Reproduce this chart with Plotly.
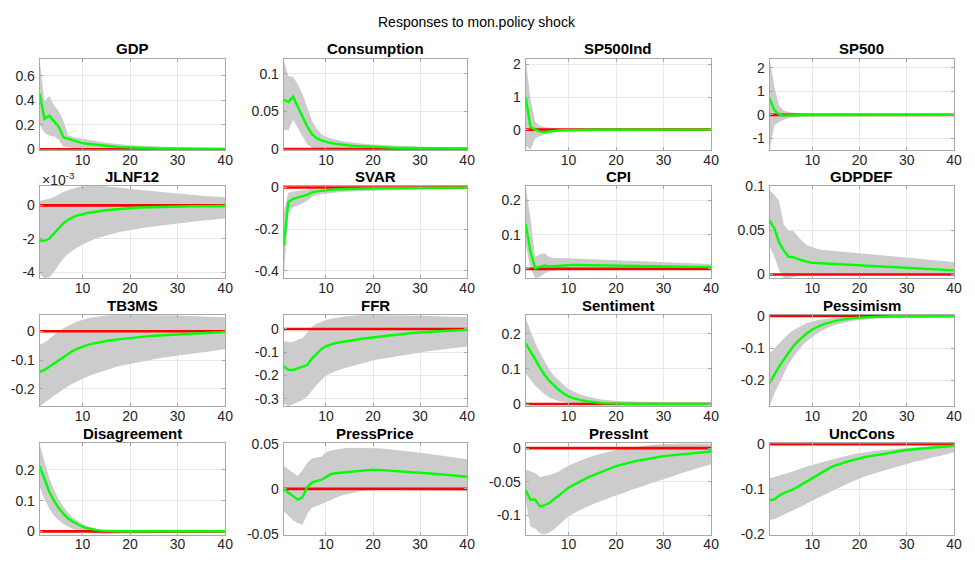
import plotly.graph_objects as go

# ---------------- data ----------------
horizon = list(range(1, 41))

panel_titles = ["GDP", "Consumption", "SP500Ind", "SP500",
                "JLNF12", "SVAR", "CPI", "GDPDEF",
                "TB3MS", "FFR", "Sentiment", "Pessimism",
                "Disagreement", "PressPrice", "PressInt", "UncCons"]

# GDP
gdp_med = [0.453, 0.247, 0.274, 0.224, 0.184, 0.097, 0.085, 0.072, 0.06, 0.05,
           0.045, 0.04, 0.035, 0.03, 0.026, 0.023, 0.02, 0.017, 0.015, 0.013,
           0.0115, 0.01, 0.009, 0.008, 0.0072, 0.0065, 0.0058, 0.0052, 0.0047, 0.0042,
           0.0038, 0.0034, 0.003, 0.0027, 0.0024, 0.0022, 0.002, 0.0018, 0.0016, 0.0015]
gdp_up = [0.73, 0.39, 0.434, 0.36, 0.31, 0.23, 0.115, 0.1, 0.092, 0.084,
          0.077, 0.07, 0.064, 0.058, 0.053, 0.048, 0.044, 0.04, 0.036, 0.033,
          0.03, 0.028, 0.026, 0.024, 0.022, 0.021, 0.02, 0.019, 0.018, 0.017,
          0.016, 0.015, 0.0145, 0.014, 0.0135, 0.013, 0.0125, 0.012, 0.0115, 0.011]
gdp_lo = [0.2, 0.135, 0.11, 0.105, 0.08, 0.02, 0.012, 0.008, 0.005, 0.003,
          0.002, 0.001, 0.0005, 0.0, -0.001, -0.001, -0.0015, -0.0015, -0.002, -0.002,
          -0.002, -0.0025, -0.0025, -0.0025, -0.003, -0.003, -0.003, -0.003, -0.003, -0.003,
          -0.003, -0.003, -0.003, -0.003, -0.003, -0.003, -0.003, -0.003, -0.003, -0.003]

# Consumption
cons_med = [0.0655, 0.0625, 0.0695, 0.056, 0.042, 0.03, 0.02, 0.0145, 0.0115, 0.0095,
            0.008, 0.007, 0.006, 0.0053, 0.0047, 0.0042, 0.0038, 0.0034, 0.0031, 0.0028,
            0.0025, 0.0022, 0.002, 0.0018, 0.0016, 0.0014, 0.0013, 0.0012, 0.0011, 0.001,
            0.0009, 0.0008, 0.0008, 0.0007, 0.0007, 0.0006, 0.0006, 0.0005, 0.0005, 0.0005]
cons_up = [0.1185, 0.097, 0.0957, 0.086, 0.073, 0.056, 0.038, 0.027, 0.02, 0.016,
           0.014, 0.0125, 0.011, 0.01, 0.009, 0.0083, 0.0077, 0.0071, 0.0066, 0.0062,
           0.0058, 0.0054, 0.005, 0.0047, 0.0044, 0.0041, 0.0038, 0.0036, 0.0034, 0.0032,
           0.003, 0.0028, 0.0027, 0.0025, 0.0024, 0.0023, 0.0022, 0.0021, 0.002, 0.002]
cons_lo = [0.026, 0.0245, 0.039, 0.028, 0.017, 0.0065, 0.002, 0.0005, 0.0, -0.0003,
           -0.0005, -0.0006, -0.0007, -0.0008, -0.0008, -0.0008, -0.0008, -0.0008, -0.0008, -0.0008,
           -0.0008, -0.0008, -0.0007, -0.0007, -0.0007, -0.0007, -0.0006, -0.0006, -0.0006, -0.0006,
           -0.0005, -0.0005, -0.0005, -0.0005, -0.0005, -0.0004, -0.0004, -0.0004, -0.0004, -0.0004]

# SP500Ind
spi_med = [1.0, 0.08, 0.0, -0.06, -0.07, -0.05, -0.035, -0.025, -0.018, -0.013,
           -0.01, -0.008, -0.006, -0.005, -0.004, -0.003, -0.003, -0.002, -0.002, -0.002,
           -0.001, -0.001, -0.001, -0.001, -0.001, -0.001, -0.001, -0.001, -0.001, -0.001,
           -0.001, -0.001, -0.001, -0.001, -0.001, -0.001, -0.001, -0.001, -0.001, -0.001]
spi_up = [2.18, 0.95, 0.25, 0.12, 0.07, 0.055, 0.045, 0.035, 0.028, 0.022,
          0.018, 0.015, 0.012, 0.01, 0.009, 0.008, 0.007, 0.006, 0.006, 0.005,
          0.005, 0.005, 0.005, 0.005, 0.005, 0.005, 0.005, 0.005, 0.005, 0.005,
          0.005, 0.005, 0.005, 0.005, 0.005, 0.005, 0.005, 0.005, 0.005, 0.005]
spi_lo = [-0.5, -0.62, -0.28, -0.2, -0.15, -0.11, -0.085, -0.065, -0.052, -0.042,
          -0.035, -0.03, -0.026, -0.022, -0.019, -0.017, -0.015, -0.013, -0.012, -0.011,
          -0.01, -0.0095, -0.009, -0.0085, -0.008, -0.0078, -0.0075, -0.0072, -0.007, -0.0068,
          -0.0065, -0.0062, -0.006, -0.0058, -0.0056, -0.0054, -0.0052, -0.005, -0.005, -0.005]

# SP500
sp_med = [0.7, 0.2, 0.02, -0.03, -0.02, -0.01, -0.005, -0.003, -0.002, -0.001,
          -0.001, 0.0, 0.0, 0.0, 0.0, 0.0, 0.0, 0.0, 0.0, 0.0,
          0.0, 0.0, 0.0, 0.0, 0.0, 0.0, 0.0, 0.0, 0.0, 0.0,
          0.0, 0.0, 0.0, 0.0, 0.0, 0.0, 0.0, 0.0, 0.0, 0.0]
sp_up = [2.39, 1.2, 0.4, 0.18, 0.12, 0.09, 0.07, 0.05, 0.04, 0.03,
         0.025, 0.02, 0.017, 0.015, 0.013, 0.011, 0.01, 0.009, 0.008, 0.008,
         0.007, 0.007, 0.006, 0.006, 0.006, 0.006, 0.005, 0.005, 0.005, 0.005,
         0.005, 0.005, 0.005, 0.005, 0.005, 0.005, 0.005, 0.005, 0.005, 0.005]
sp_lo = [-1.48, -0.45, -0.3, -0.2, -0.13, -0.08, -0.06, -0.045, -0.035, -0.028,
         -0.022, -0.018, -0.015, -0.013, -0.011, -0.01, -0.009, -0.008, -0.008, -0.007,
         -0.007, -0.006, -0.006, -0.006, -0.006, -0.005, -0.005, -0.005, -0.005, -0.005,
         -0.005, -0.005, -0.005, -0.005, -0.005, -0.005, -0.005, -0.005, -0.005, -0.005]

# JLNF12 (values in units of 1e-3)
jln_med = [-2.1, -2.12, -2.0, -1.68, -1.35, -1.07, -0.86, -0.7, -0.6, -0.52,
           -0.46, -0.41, -0.36, -0.32, -0.29, -0.26, -0.23, -0.2, -0.18, -0.16,
           -0.145, -0.13, -0.12, -0.11, -0.1, -0.09, -0.085, -0.08, -0.075, -0.07,
           -0.066, -0.062, -0.058, -0.055, -0.052, -0.05, -0.048, -0.046, -0.044, -0.042]
jln_up = [0.28, 0.33, 0.39, 0.5, 0.66, 0.8, 0.92, 1.01, 1.09, 1.14,
          1.16, 1.17, 1.17, 1.16, 1.14, 1.12, 1.09, 1.06, 1.02, 0.98,
          0.95, 0.92, 0.89, 0.86, 0.83, 0.8, 0.77, 0.74, 0.71, 0.68,
          0.66, 0.64, 0.62, 0.6, 0.58, 0.56, 0.54, 0.52, 0.5, 0.49]
jln_lo = [-4.1, -4.35, -4.3, -4.0, -3.55, -3.18, -2.9, -2.68, -2.5, -2.34,
          -2.2, -2.08, -1.97, -1.88, -1.8, -1.72, -1.65, -1.58, -1.52, -1.46,
          -1.42, -1.38, -1.34, -1.3, -1.26, -1.22, -1.18, -1.14, -1.1, -1.07,
          -1.04, -1.01, -0.98, -0.95, -0.92, -0.89, -0.86, -0.83, -0.8, -0.78]

# SVAR
svar_med = [-0.28, -0.07, -0.055, -0.047, -0.042, -0.036, -0.024, -0.019, -0.016, -0.013,
            -0.011, -0.0095, -0.0085, -0.0075, -0.0068, -0.006, -0.0055, -0.005, -0.0045, -0.004,
            -0.0037, -0.0034, -0.0031, -0.0028, -0.0026, -0.0024, -0.0022, -0.002, -0.0019, -0.0018,
            -0.0017, -0.0016, -0.0015, -0.0014, -0.0013, -0.0012, -0.0011, -0.001, -0.001, -0.001]
svar_up = [-0.12, -0.025, -0.02, -0.016, -0.013, -0.011, -0.007, -0.005, -0.004, -0.003,
           -0.0025, -0.002, -0.0015, -0.001, -0.0005, 0.0, 0.0003, 0.0005, 0.0008, 0.001,
           0.0012, 0.0014, 0.0016, 0.0018, 0.002, 0.002, 0.0022, 0.0022, 0.0024, 0.0024,
           0.0025, 0.0025, 0.0025, 0.0025, 0.0025, 0.0025, 0.0025, 0.0025, 0.0025, 0.0025]
svar_lo = [-0.436, -0.12, -0.095, -0.088, -0.078, -0.065, -0.045, -0.038, -0.033, -0.029,
           -0.026, -0.024, -0.022, -0.021, -0.02, -0.019, -0.018, -0.017, -0.016, -0.015,
           -0.0145, -0.014, -0.0135, -0.013, -0.0125, -0.012, -0.0115, -0.011, -0.0105, -0.01,
           -0.0098, -0.0095, -0.0092, -0.009, -0.0088, -0.0086, -0.0084, -0.0082, -0.008, -0.008]

# CPI
cpi_med = [0.132, 0.05, 0.002, 0.005, 0.01, 0.007, 0.008, 0.01, 0.011, 0.0115,
           0.0115, 0.0114, 0.0113, 0.0112, 0.0111, 0.011, 0.0108, 0.0105, 0.0102, 0.0098,
           0.0096, 0.0093, 0.009, 0.0088, 0.0085, 0.0082, 0.008, 0.0077, 0.0075, 0.0072,
           0.007, 0.0068, 0.0066, 0.0064, 0.0062, 0.006, 0.0058, 0.0056, 0.0054, 0.0052]
cpi_up = [0.243, 0.15, 0.034, 0.043, 0.046, 0.034, 0.032, 0.031, 0.031, 0.031,
          0.0305, 0.03, 0.0295, 0.029, 0.0285, 0.028, 0.0275, 0.027, 0.0265, 0.026,
          0.0255, 0.025, 0.0245, 0.024, 0.0235, 0.023, 0.0225, 0.022, 0.0215, 0.021,
          0.0203, 0.0196, 0.0189, 0.0182, 0.0175, 0.0168, 0.0161, 0.0154, 0.0148, 0.0145]
cpi_lo = [0.07, 0.005, -0.027, -0.024, -0.013, -0.007, -0.005, -0.004, -0.003, -0.003,
          -0.003, -0.003, -0.0025, -0.0025, -0.0025, -0.0025, -0.002, -0.002, -0.002, -0.002,
          -0.002, -0.002, -0.002, -0.0015, -0.0015, -0.0015, -0.0015, -0.0015, -0.0015, -0.0015,
          -0.001, -0.001, -0.001, -0.001, -0.001, -0.001, -0.001, -0.001, -0.001, -0.001]

# GDPDEF
def_med = [0.061, 0.052, 0.036, 0.027, 0.02, 0.0195, 0.0175, 0.0155, 0.0142, 0.0133,
           0.013, 0.0128, 0.0125, 0.0122, 0.012, 0.0117, 0.0114, 0.0111, 0.0108, 0.0105,
           0.0102, 0.0099, 0.0096, 0.0093, 0.009, 0.0087, 0.0084, 0.0081, 0.0078, 0.0075,
           0.0072, 0.007, 0.0067, 0.0064, 0.0061, 0.0058, 0.0055, 0.0052, 0.005, 0.0047]
def_up = [0.095, 0.09, 0.083, 0.056, 0.05, 0.049, 0.043, 0.037, 0.033, 0.031,
          0.029, 0.028, 0.0275, 0.027, 0.0265, 0.026, 0.0255, 0.025, 0.0245, 0.024,
          0.0235, 0.023, 0.0225, 0.022, 0.0215, 0.021, 0.0205, 0.02, 0.0195, 0.019,
          0.0185, 0.018, 0.0175, 0.017, 0.0165, 0.016, 0.0155, 0.015, 0.0145, 0.014]
def_lo = [0.032, 0.02, 0.005, -0.004, -0.004, -0.003, -0.002, -0.001, 0.0, 0.0005,
          0.001, 0.001, 0.001, 0.001, 0.001, 0.001, 0.001, 0.001, 0.001, 0.001,
          0.001, 0.001, 0.001, 0.001, 0.001, 0.001, 0.001, 0.001, 0.001, 0.001,
          0.001, 0.001, 0.001, 0.001, 0.001, 0.001, 0.001, 0.001, 0.001, 0.001]

# TB3MS
tb_med = [-0.141, -0.134, -0.123, -0.112, -0.1, -0.088, -0.077, -0.068, -0.06, -0.053,
          -0.048, -0.044, -0.04, -0.037, -0.034, -0.031, -0.029, -0.027, -0.025, -0.023,
          -0.021, -0.02, -0.018, -0.017, -0.016, -0.015, -0.013, -0.012, -0.011, -0.01,
          -0.009, -0.008, -0.0075, -0.007, -0.006, -0.0055, -0.005, -0.0045, -0.004, -0.003]
tb_up = [-0.047, -0.04, -0.027, -0.012, 0.0, 0.01, 0.019, 0.027, 0.034, 0.04,
         0.044, 0.047, 0.05, 0.052, 0.054, 0.055, 0.056, 0.056, 0.056, 0.056,
         0.056, 0.056, 0.056, 0.056, 0.056, 0.055, 0.055, 0.055, 0.054, 0.054,
         0.053, 0.053, 0.052, 0.052, 0.051, 0.05, 0.05, 0.049, 0.048, 0.048]
tb_lo = [-0.26, -0.248, -0.236, -0.223, -0.211, -0.2, -0.19, -0.181, -0.172, -0.165,
         -0.158, -0.151, -0.145, -0.139, -0.134, -0.129, -0.124, -0.12, -0.116, -0.112,
         -0.109, -0.106, -0.103, -0.1, -0.097, -0.094, -0.091, -0.089, -0.086, -0.084,
         -0.082, -0.08, -0.078, -0.076, -0.074, -0.072, -0.07, -0.067, -0.065, -0.062]

# FFR
ffr_med = [-0.16, -0.175, -0.176, -0.168, -0.16, -0.155, -0.127, -0.105, -0.087, -0.073,
           -0.066, -0.061, -0.057, -0.053, -0.05, -0.047, -0.044, -0.041, -0.038, -0.035,
           -0.033, -0.031, -0.029, -0.027, -0.024, -0.022, -0.02, -0.018, -0.016, -0.014,
           -0.013, -0.012, -0.011, -0.01, -0.009, -0.008, -0.007, -0.006, -0.005, -0.004]
ffr_up = [-0.052, -0.056, -0.056, -0.045, -0.04, -0.015, 0.01, 0.022, 0.032, 0.039,
          0.044, 0.048, 0.051, 0.054, 0.056, 0.058, 0.059, 0.06, 0.06, 0.06,
          0.06, 0.06, 0.06, 0.06, 0.06, 0.059, 0.059, 0.058, 0.058, 0.057,
          0.057, 0.056, 0.056, 0.055, 0.054, 0.054, 0.053, 0.052, 0.051, 0.05]
ffr_lo = [-0.32, -0.332, -0.325, -0.315, -0.305, -0.29, -0.265, -0.24, -0.22, -0.2,
          -0.19, -0.181, -0.174, -0.167, -0.161, -0.155, -0.15, -0.145, -0.14, -0.135,
          -0.131, -0.127, -0.123, -0.119, -0.116, -0.113, -0.11, -0.107, -0.104, -0.101,
          -0.098, -0.095, -0.092, -0.09, -0.087, -0.085, -0.082, -0.08, -0.077, -0.075]

# Sentiment
sen_med = [0.173, 0.152, 0.128, 0.104, 0.083, 0.066, 0.052, 0.04, 0.03, 0.022,
           0.017, 0.013, 0.01, 0.0075, 0.0055, 0.004, 0.003, 0.002, 0.0015, 0.001,
           0.0008, 0.0006, 0.0005, 0.0004, 0.0003, 0.0003, 0.0002, 0.0002, 0.0002, 0.0002,
           0.0001, 0.0001, 0.0001, 0.0001, 0.0001, 0.0001, 0.0001, 0.0001, 0.0001, 0.0001]
sen_up = [0.245, 0.21, 0.175, 0.146, 0.12, 0.098, 0.08, 0.066, 0.054, 0.043,
          0.036, 0.03, 0.025, 0.021, 0.017, 0.015, 0.013, 0.011, 0.01, 0.009,
          0.0083, 0.0077, 0.0072, 0.0067, 0.0063, 0.006, 0.0057, 0.0054, 0.0052, 0.005,
          0.0049, 0.0048, 0.0047, 0.0047, 0.0046, 0.0046, 0.0045, 0.0045, 0.0045, 0.0045]
sen_lo = [0.088, 0.07, 0.052, 0.04, 0.028, 0.019, 0.013, 0.009, 0.006, 0.0045,
          0.002, 0.0005, -0.0005, -0.0015, -0.002, -0.0025, -0.003, -0.0035, -0.004, -0.0042,
          -0.0044, -0.0045, -0.0045, -0.0045, -0.0045, -0.0044, -0.0043, -0.0042, -0.0041, -0.004,
          -0.0039, -0.0038, -0.0037, -0.0036, -0.0035, -0.0034, -0.0033, -0.0032, -0.0031, -0.003]

# Pessimism
pes_med = [-0.207, -0.18, -0.157, -0.135, -0.113, -0.094, -0.078, -0.064, -0.052, -0.042,
           -0.034, -0.028, -0.023, -0.018, -0.015, -0.012, -0.0095, -0.0075, -0.006, -0.005,
           -0.004, -0.003, -0.0025, -0.002, -0.0015, -0.0012, -0.001, -0.0009, -0.0008, -0.0007,
           -0.0006, -0.0005, -0.0005, -0.0004, -0.0004, -0.0003, -0.0003, -0.0003, -0.0002, -0.0002]
pes_up = [-0.115, -0.1, -0.085, -0.068, -0.055, -0.044, -0.035, -0.028, -0.022, -0.017,
          -0.013, -0.011, -0.0085, -0.0065, -0.005, -0.004, -0.003, -0.0025, -0.002, -0.0015,
          -0.0012, -0.001, -0.0008, -0.0006, -0.0004, -0.0002, 0.0, 0.0, 0.0, 0.0,
          0.0, 0.0, 0.0, 0.0, 0.0, 0.0, 0.0, 0.0, 0.0, 0.0]
pes_lo = [-0.278, -0.24, -0.21, -0.178, -0.15, -0.127, -0.107, -0.09, -0.077, -0.065,
          -0.055, -0.046, -0.038, -0.032, -0.027, -0.023, -0.02, -0.017, -0.014, -0.012,
          -0.011, -0.01, -0.009, -0.008, -0.0075, -0.007, -0.0065, -0.006, -0.0055, -0.005,
          -0.0048, -0.0046, -0.0044, -0.0042, -0.004, -0.0038, -0.0036, -0.0034, -0.0032, -0.003]

# Disagreement
dis_med = [0.212, 0.168, 0.13, 0.1, 0.076, 0.057, 0.042, 0.031, 0.022, 0.015,
           0.01, 0.0065, 0.004, 0.0025, 0.0015, 0.001, 0.0006, 0.0004, 0.0003, 0.0002,
           0.0002, 0.0002, 0.0002, 0.0002, 0.0002, 0.0002, 0.0002, 0.0002, 0.0002, 0.0002,
           0.0002, 0.0002, 0.0002, 0.0002, 0.0002, 0.0002, 0.0002, 0.0002, 0.0002, 0.0002]
dis_up = [0.283, 0.225, 0.175, 0.136, 0.105, 0.08, 0.06, 0.045, 0.033, 0.024,
          0.017, 0.012, 0.0085, 0.006, 0.0045, 0.0035, 0.003, 0.0025, 0.002, 0.002,
          0.0018, 0.0017, 0.0016, 0.0015, 0.0014, 0.0013, 0.0012, 0.0012, 0.0011, 0.0011,
          0.001, 0.001, 0.001, 0.001, 0.001, 0.001, 0.001, 0.001, 0.001, 0.001]
dis_lo = [0.145, 0.105, 0.075, 0.052, 0.036, 0.024, 0.015, 0.008, 0.003, 0.0,
          -0.003, -0.005, -0.007, -0.008, -0.009, -0.0095, -0.0095, -0.009, -0.0085, -0.008,
          -0.0075, -0.007, -0.0066, -0.0062, -0.0058, -0.0054, -0.005, -0.0047, -0.0044, -0.0041,
          -0.0038, -0.0035, -0.0033, -0.0031, -0.0029, -0.0027, -0.0025, -0.0023, -0.0021, -0.002]

# PressPrice
pp_med = [0.0, -0.004, -0.0075, -0.012, -0.0095, 0.002, 0.007, 0.009, 0.01, 0.013,
          0.0165, 0.0175, 0.018, 0.0188, 0.0195, 0.02, 0.0205, 0.021, 0.0213, 0.0215,
          0.0213, 0.021, 0.0207, 0.0204, 0.02, 0.0197, 0.0193, 0.019, 0.0186, 0.0182,
          0.0178, 0.0174, 0.017, 0.0165, 0.016, 0.0155, 0.015, 0.0145, 0.014, 0.0135]
pp_up = [0.0255, 0.022, 0.018, 0.0145, 0.021, 0.029, 0.034, 0.035, 0.036, 0.041,
         0.043, 0.044, 0.045, 0.0455, 0.046, 0.046, 0.046, 0.046, 0.046, 0.0458,
         0.0455, 0.045, 0.0445, 0.044, 0.0435, 0.043, 0.0425, 0.042, 0.0413, 0.0405,
         0.0398, 0.039, 0.0383, 0.0375, 0.0368, 0.036, 0.0353, 0.0345, 0.0338, 0.033]
pp_lo = [-0.024, -0.03, -0.035, -0.038, -0.04, -0.028, -0.021, -0.019, -0.017, -0.0145,
         -0.012, -0.01, -0.008, -0.0065, -0.005, -0.004, -0.003, -0.002, -0.0015, -0.001,
         -0.0009, -0.0008, -0.0008, -0.0007, -0.0007, -0.0007, -0.0007, -0.0007, -0.0007, -0.0007,
         -0.0009, -0.0011, -0.0013, -0.0015, -0.0017, -0.0019, -0.0021, -0.0023, -0.0024, -0.0025]

# PressInt
pi_med = [-0.0625, -0.077, -0.0765, -0.087, -0.085, -0.082, -0.076, -0.071, -0.065, -0.059,
          -0.055, -0.051, -0.047, -0.044, -0.041, -0.038, -0.035, -0.032, -0.029, -0.027,
          -0.025, -0.023, -0.021, -0.0195, -0.018, -0.017, -0.0155, -0.0145, -0.013, -0.012,
          -0.0112, -0.0105, -0.0098, -0.009, -0.0083, -0.0076, -0.007, -0.0063, -0.0057, -0.005]
pi_up = [-0.032, -0.034, -0.037, -0.043, -0.042, -0.04, -0.038, -0.035, -0.03, -0.026,
         -0.023, -0.02, -0.017, -0.014, -0.012, -0.01, -0.008, -0.006, -0.004, -0.0025,
         -0.001, 0.0, 0.001, 0.002, 0.003, 0.0038, 0.0045, 0.005, 0.0055, 0.006,
         0.0064, 0.0067, 0.007, 0.0072, 0.0073, 0.0073, 0.0073, 0.0072, 0.0071, 0.007]
pi_lo = [-0.078, -0.117, -0.12, -0.127, -0.129, -0.126, -0.121, -0.115, -0.108, -0.102,
         -0.098, -0.094, -0.09, -0.087, -0.084, -0.081, -0.078, -0.076, -0.073, -0.071,
         -0.068, -0.066, -0.063, -0.061, -0.058, -0.056, -0.053, -0.051, -0.048, -0.046,
         -0.044, -0.042, -0.039, -0.037, -0.035, -0.032, -0.03, -0.028, -0.026, -0.024]

# UncCons
unc_med = [-0.124, -0.122, -0.114, -0.108, -0.104, -0.1, -0.094, -0.088, -0.082, -0.075,
           -0.069, -0.063, -0.057, -0.051, -0.047, -0.043, -0.04, -0.037, -0.034, -0.032,
           -0.029, -0.027, -0.025, -0.023, -0.021, -0.019, -0.018, -0.016, -0.0145, -0.013,
           -0.012, -0.011, -0.01, -0.009, -0.008, -0.007, -0.006, -0.005, -0.004, -0.0035]
unc_up = [-0.076, -0.073, -0.07, -0.067, -0.064, -0.06, -0.056, -0.052, -0.049, -0.046,
          -0.043, -0.04, -0.037, -0.034, -0.031, -0.029, -0.027, -0.024, -0.022, -0.02,
          -0.018, -0.017, -0.015, -0.014, -0.013, -0.012, -0.011, -0.0095, -0.0085, -0.007,
          -0.0065, -0.006, -0.0055, -0.005, -0.0045, -0.004, -0.0035, -0.003, -0.0025, -0.002]
unc_lo = [-0.168, -0.166, -0.16, -0.155, -0.15, -0.146, -0.141, -0.136, -0.13, -0.124,
          -0.119, -0.114, -0.109, -0.104, -0.099, -0.095, -0.09, -0.085, -0.081, -0.076,
          -0.072, -0.068, -0.064, -0.061, -0.058, -0.055, -0.052, -0.049, -0.046, -0.043,
          -0.041, -0.038, -0.036, -0.033, -0.031, -0.028, -0.026, -0.023, -0.021, -0.018]

medians = [gdp_med, cons_med, spi_med, sp_med, jln_med, svar_med, cpi_med, def_med,
           tb_med, ffr_med, sen_med, pes_med, dis_med, pp_med, pi_med, unc_med]
uppers = [gdp_up, cons_up, spi_up, sp_up, jln_up, svar_up, cpi_up, def_up,
          tb_up, ffr_up, sen_up, pes_up, dis_up, pp_up, pi_up, unc_up]
lowers = [gdp_lo, cons_lo, spi_lo, sp_lo, jln_lo, svar_lo, cpi_lo, def_lo,
          tb_lo, ffr_lo, sen_lo, pes_lo, dis_lo, pp_lo, pi_lo, unc_lo]

y_ticks = [[0, 0.2, 0.4, 0.6], [0, 0.05, 0.1], [0, 1, 2], [-1, 0, 1, 2],
           [-4, -2, 0], [-0.4, -0.2, 0], [0, 0.1, 0.2], [0, 0.05, 0.1],
           [-0.2, -0.1, 0], [-0.3, -0.2, -0.1, 0], [0, 0.1, 0.2], [-0.2, -0.1, 0],
           [0, 0.1, 0.2], [-0.05, 0, 0.05], [-0.1, -0.05, 0], [-0.2, -0.1, 0]]
y_ranges = [[-0.005, 0.74], [-0.001, 0.12], [-0.62, 2.18], [-1.48, 2.39],
            [-4.35, 1.17], [-0.436, 0.008], [-0.027, 0.243], [-0.004, 0.1],
            [-0.26, 0.056], [-0.332, 0.06], [-0.0065, 0.254], [-0.28, 0.003],
            [-0.0105, 0.287], [-0.051, 0.051], [-0.129, 0.0073], [-0.2, 0.002]]
x_ticks = [10, 20, 30, 40]

main_title = "Responses to mon.policy shock"

# ---------------- layout ----------------
W, H = 975, 562
cols_px = [(40, 227), (286, 471), (530, 717), (776, 962)]
rows_px = [(52, 146), (183, 278), (316, 410), (448, 542)]

FONT = "Liberation Sans, Arial, Helvetica, sans-serif"
TICKC = "#262626"

fig = go.Figure()
annotations = []
layout_axes = {}

for k in range(16):
    r, c = divmod(k, 4)
    idx = k + 1
    xa = "x" if idx == 1 else f"x{idx}"
    ya = "y" if idx == 1 else f"y{idx}"
    xl, xr = cols_px[c]
    yt, yb = rows_px[r]

    fig.add_trace(go.Scatter(
        x=horizon + horizon[::-1], y=uppers[k] + lowers[k][::-1],
        fill="toself", fillcolor="#cccccc", line=dict(width=0),
        mode="lines", xaxis=xa, yaxis=ya, hoverinfo="skip", showlegend=False))
    fig.add_trace(go.Scatter(
        x=horizon, y=[0] * len(horizon), mode="lines",
        line=dict(color="#ff0000", width=2.6),
        xaxis=xa, yaxis=ya, hoverinfo="skip", showlegend=False))
    fig.add_trace(go.Scatter(
        x=horizon, y=medians[k], mode="lines",
        line=dict(color="#00ff00", width=2.4),
        xaxis=xa, yaxis=ya, hoverinfo="skip", showlegend=False))

    axis_common = dict(
        showline=True, linecolor="#a8a8a8", linewidth=1, mirror="ticks",
        showgrid=True, gridcolor="#e8e8e8", gridwidth=1, zeroline=False,
        ticks="inside", ticklen=3, tickcolor="#a8a8a8",
        tickfont=dict(family=FONT, size=14, color=TICKC))
    layout_axes["xaxis" if idx == 1 else f"xaxis{idx}"] = dict(
        domain=[xl / W, xr / W], anchor=ya, range=[1, 40],
        tickmode="array", tickvals=x_ticks, ticktext=[str(v) for v in x_ticks],
        ticklabelstandoff=-3, **axis_common)
    layout_axes["yaxis" if idx == 1 else f"yaxis{idx}"] = dict(
        domain=[1 - yb / H, 1 - yt / H], anchor=xa, range=y_ranges[k],
        tickmode="array", tickvals=y_ticks[k], ticktext=[f"{v:g}" for v in y_ticks[k]],
        ticklabelstandoff=1, **axis_common)

    annotations.append(dict(
        text=f"<b>{panel_titles[k]}</b>", xref="paper", yref="paper",
        x=(xl + xr) / 2 / W, y=1 - (yt - 10) / H, xanchor="center", yanchor="middle",
        showarrow=False, font=dict(family=FONT, size=15, color="black")))

annotations.append(dict(
    text="×10<sup>-3</sup>", xref="paper", yref="paper",
    x=40 / W, y=1 - 176 / H, xanchor="left", yanchor="middle",
    showarrow=False, font=dict(family=FONT, size=14, color=TICKC)))
annotations.append(dict(
    text=main_title, xref="paper", yref="paper",
    x=481 / W, y=1 - 14 / H, xanchor="center", yanchor="middle",
    showarrow=False, font=dict(family=FONT, size=14, color="black")))

fig.update_layout(
    width=W, height=H, margin=dict(l=0, r=0, t=0, b=0),
    paper_bgcolor="white", plot_bgcolor="white",
    showlegend=False, hovermode=False,
    annotations=annotations, **layout_axes)

fig.write_html("out.html")
